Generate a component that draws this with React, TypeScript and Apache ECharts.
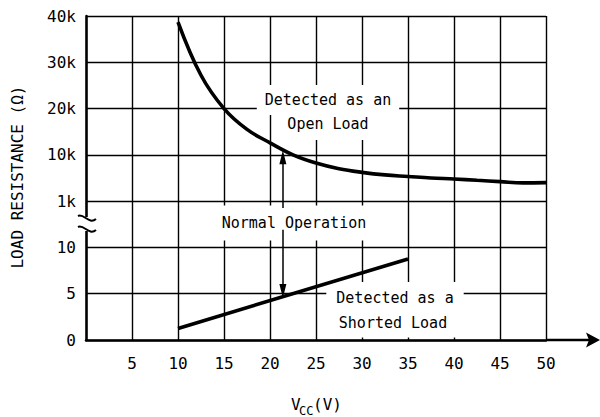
import { useEffect, useRef } from "react";
import * as echarts from "echarts";

// Y axis: piecewise scale with a break between 10 Ω and 1 kΩ
const yTickLabels = ["0", "5", "10", "1k", "10k", "20k", "30k", "40k"];
const xMin = 0;
const xMax = 50;
const xStep = 5;

// Upper curve: threshold for "open load" detection (Ω)
const openVcc = [10, 12.5, 15, 17.5, 20, 22.5, 25, 27.5, 30, 32.5, 35, 37.5, 40, 42.5, 45, 47.5, 50];
const openRes = [38700, 27200, 20000, 15500, 12600, 10000, 8400, 7300, 6600, 6100, 5800, 5500, 5300, 5050, 4800, 4550, 4600];

// Lower line: threshold for "shorted load" detection (Ω)
const shortVcc = [10, 35];
const shortRes = [1.25, 8.75];

// Arrows for "Normal Operation" (Vcc, axis index position)
const arrowVcc = 21.4;
const upArrowIdx = [2.85, 3.95];
const downArrowIdx = [2.38, 1.06];

const FONT = "DejaVu Sans Mono";

function toIdx(r: number): number {
  if (r <= 10) return r / 5;
  if (r <= 10000) return 3 + (r - 1000) / 9000;
  return 4 + (r - 10000) / 10000;
}

export default function App() {
  const ref = useRef<HTMLDivElement>(null);
  useEffect(() => {
    if (!ref.current) return;
    const chart = echarts.init(ref.current, undefined, { renderer: "svg" });
    const gridLeft = 86, gridRight = 546, gridTop = 16, gridBottom = 340;
    const textBox = (text: string, x: number, y: number, pad: number[]) => ({
      type: "text",
      x,
      y,
      z: 1,
      silent: true,
      style: {
        text,
        fontFamily: FONT,
        fontSize: 15,
        fill: "#000",
        align: "center",
        verticalAlign: "middle",
        backgroundColor: "#fff",
        padding: pad,
      },
    });
    chart.setOption({
      animation: false,
      backgroundColor: "#fff",
      grid: {
        left: gridLeft,
        right: 600 - gridRight,
        top: gridTop,
        bottom: 417 - gridBottom,
        outerBoundsMode: "none",
      },
      xAxis: {
        type: "value",
        min: xMin,
        max: xMax,
        interval: xStep,
        axisLine: { show: true, onZero: false, lineStyle: { color: "#000", width: 2.5 } },
        axisTick: { show: false },
        axisLabel: {
          margin: 15,
          color: "#000",
          fontFamily: FONT,
          fontSize: 16,
          formatter: (v: number) => (v === 0 ? "" : String(v)),
        },
        splitLine: { show: true, lineStyle: { color: "#000", width: 1.4 } },
      },
      yAxis: {
        type: "value",
        min: 0,
        max: yTickLabels.length - 1,
        interval: 1,
        axisLine: { show: true, onZero: false, lineStyle: { color: "#000", width: 2.5 } },
        axisTick: { show: false },
        axisLabel: {
          margin: 10,
          color: "#000",
          fontFamily: FONT,
          fontSize: 16,
          formatter: (v: number) => yTickLabels[Math.round(v)] ?? "",
        },
        splitLine: { show: true, lineStyle: { color: "#000", width: 1.4 } },
      },
      series: [
        {
          type: "line",
          data: openVcc.map((v, i) => [v, toIdx(openRes[i])]),
          smooth: 0.4,
          showSymbol: false,
          symbol: "none",
          lineStyle: { color: "#000", width: 3.6 },
          z: 3,
          markLine: {
            silent: true,
            symbol: ["none", "triangle"],
            symbolSize: [7, 14],
            label: { show: false },
            lineStyle: { color: "#000", width: 1.5, type: "solid" },
            emphasis: { disabled: true },
            data: [
              [{ coord: [arrowVcc, upArrowIdx[0]] }, { coord: [arrowVcc, upArrowIdx[1]] }],
              [{ coord: [arrowVcc, downArrowIdx[0]] }, { coord: [arrowVcc, downArrowIdx[1]] }],
            ],
          },
        },
        {
          type: "line",
          data: shortVcc.map((v, i) => [v, toIdx(shortRes[i])]),
          showSymbol: false,
          symbol: "none",
          lineStyle: { color: "#000", width: 3.6 },
          z: 3,
        },
      ],
      graphic: [
        textBox("Detected as an", 328, 100, [9, 8, 6, 8]),
        textBox("Open Load", 328, 124, [6, 8, 11, 8]),
        textBox("Normal Operation", 294, 223, [10, 8, 10, 8]),
        textBox("Detected as a", 395, 298, [11, 10, 6, 10]),
        textBox("Shorted Load", 393, 323, [6, 10, 8, 10]),
        // x axis extension with arrow
        {
          type: "line",
          z: 5,
          silent: true,
          shape: { x1: gridRight, y1: gridBottom, x2: 592, y2: gridBottom },
          style: { stroke: "#000", lineWidth: 2.5 },
        },
        {
          type: "polygon",
          z: 5,
          silent: true,
          shape: { points: [[586, 332.5], [600, 340], [586, 347.5], [589, 340]] },
          style: { fill: "#000" },
        },
        // axis break
        {
          type: "rect",
          z: 5,
          silent: true,
          shape: { x: 82, y: 217, width: 9, height: 14 },
          style: { fill: "#fff" },
        },
        {
          type: "bezierCurve",
          z: 6,
          silent: true,
          shape: { x1: 78, y1: 216, cpx1: 84, cpy1: 213, cpx2: 89, cpy2: 225, x2: 96, y2: 219 },
          style: { stroke: "#000", lineWidth: 2, fill: "none" },
        },
        {
          type: "bezierCurve",
          z: 6,
          silent: true,
          shape: { x1: 78, y1: 227, cpx1: 84, cpy1: 224, cpx2: 89, cpy2: 236, x2: 96, y2: 230 },
          style: { stroke: "#000", lineWidth: 2, fill: "none" },
        },
        // y axis title
        {
          type: "text",
          x: 17,
          y: 177,
          rotation: Math.PI / 2,
          silent: true,
          style: {
            text: "LOAD RESISTANCE (Ω)",
            fontFamily: FONT,
            fontSize: 16,
            fill: "#000",
            align: "center",
            verticalAlign: "middle",
          },
        },
        // x axis title
        {
          type: "text",
          x: 291,
          y: 404,
          silent: true,
          style: { text: "V", fontFamily: FONT, fontSize: 16, fill: "#000", align: "left", verticalAlign: "middle" },
        },
        {
          type: "text",
          x: 299,
          y: 411,
          silent: true,
          style: { text: "CC", fontFamily: FONT, fontSize: 12, fill: "#000", align: "left", verticalAlign: "middle" },
        },
        {
          type: "text",
          x: 313,
          y: 404,
          silent: true,
          style: { text: "(V)", fontFamily: FONT, fontSize: 16, fill: "#000", align: "left", verticalAlign: "middle" },
        },
      ],
    });
    return () => chart.dispose();
  }, []);
  return (
    <div
      ref={ref}
      style={{ position: "fixed", left: 0, top: 0, width: 600, height: 417, background: "#fff" }}
    />
  );
}
